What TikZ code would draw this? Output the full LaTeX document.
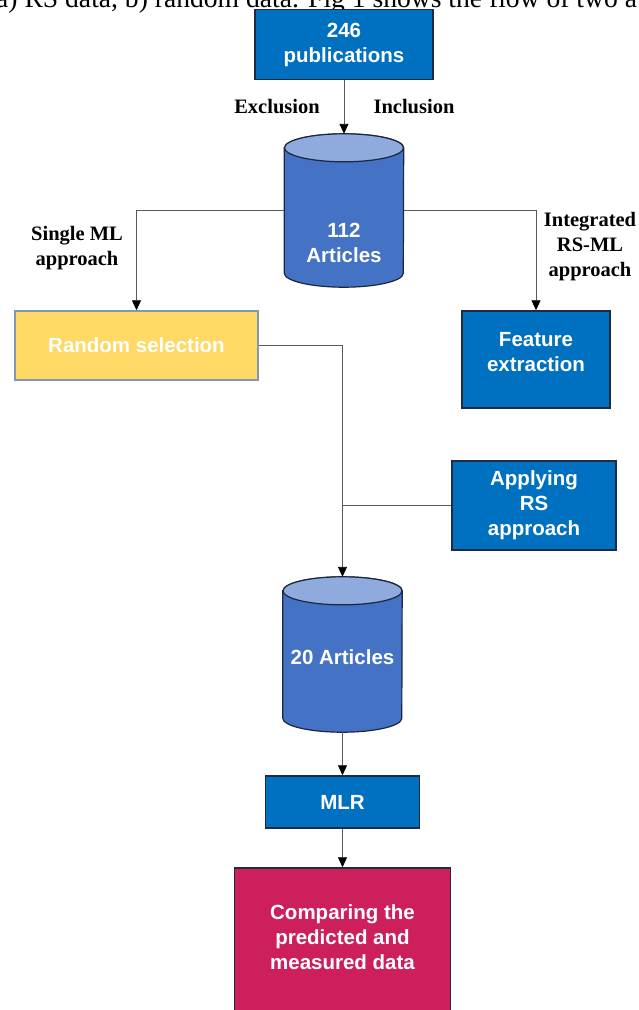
\documentclass[tikz,border=0pt]{standalone}
\usepackage{fontspec}
\setmainfont{Liberation Serif}
\setsansfont{Liberation Sans}
\usetikzlibrary{arrows.meta}
\definecolor{boxblue}{HTML}{0070C0}
\definecolor{boxedge}{HTML}{1F2A44}
\definecolor{cylbody}{HTML}{4472C4}
\definecolor{cyltop}{HTML}{8FAADC}
\definecolor{cyledge}{HTML}{1B2740}
\definecolor{selyellow}{HTML}{FFD966}
\definecolor{seledge}{HTML}{8497B0}
\definecolor{magentabox}{HTML}{CC1F5C}
\definecolor{linegray}{HTML}{595959}
\begin{document}
\begin{tikzpicture}[x=1pt,y=-1pt,
  txt/.style={text=white, font=\sffamily\bfseries\fontsize{20.5}{25}\selectfont, align=center, inner sep=0pt},
  bx/.style={txt, draw=boxedge, line width=1.5pt, fill=boxblue},
  lbl/.style={font=\rmfamily\bfseries\fontsize{20.5}{25}\selectfont, align=center, text=black, inner sep=0pt},
  conn/.style={draw=linegray, line width=0.9pt},
  arr/.style={conn, -{Triangle[length=10pt,width=9pt,color=black]}},
  cylb/.style={fill=cylbody, draw=cyledge, line width=1.2pt},
  cylt/.style={fill=cyltop, draw=cyledge, line width=1.2pt}]
\useasboundingbox (0,0) rectangle (638,1010);
\clip (0,0) rectangle (638,1010);

% partially visible line of text at top
\node[anchor=base west, inner sep=0pt, font=\rmfamily\fontsize{27.6}{32}\selectfont] (topline) at (-4,7) {a) RS data, b) random data. Fig 1 shows the flow of two a};

% boxes
\node[bx, minimum width=178pt, minimum height=70pt] (pub) at (344,44.5) {246\\publications};
\node[txt, draw=seledge, line width=1.5pt, fill=selyellow, minimum width=243pt, minimum height=69pt] (rand) at (136.5,345.5) {Random selection};
\node[bx, minimum width=148pt, minimum height=97pt] (feat) at (536,359.5) {};
\node[txt] (feattxt) at (536,352) {Feature\\extraction};
\node[bx, minimum width=164pt, minimum height=89pt] (apply) at (534,505.5) {Applying\\RS\\approach};
\node[bx, minimum width=154pt, minimum height=52pt] (mlr) at (342.5,802) {MLR};
\node[txt, draw=boxedge, line width=1.5pt, fill=magentabox, minimum width=216pt, minimum height=162pt] (comp) at (342.5,949) {};
\node[txt] (comptxt) at (342.5,937) {Comparing the\\predicted and\\measured data};

% cylinder 1
\node[minimum width=119pt, minimum height=153pt, inner sep=0pt] (cyl1) at (344,210.5) {};
\path[cylb] ([yshift=-14pt]cyl1.north west) -- ([yshift=14pt]cyl1.south west)
  arc[start angle=180,end angle=360,x radius=59.5pt,y radius=14pt]
  -- ([yshift=-14pt]cyl1.north east)
  arc[start angle=0,end angle=180,x radius=59.5pt,y radius=14pt] -- cycle;
\path[cylt] ([yshift=-14pt]cyl1.north) ellipse[x radius=59.5pt,y radius=14pt];
\node[txt] (cyl1txt) at (344,243) {112\\Articles};

% cylinder 2
\node[minimum width=119pt, minimum height=155pt, inner sep=0pt] (cyl2) at (342.5,654.5) {};
\path[cylb] ([yshift=-14pt]cyl2.north west) -- ([yshift=14pt]cyl2.south west)
  arc[start angle=180,end angle=360,x radius=59.5pt,y radius=14pt]
  -- ([yshift=-14pt]cyl2.north east)
  arc[start angle=0,end angle=180,x radius=59.5pt,y radius=14pt] -- cycle;
\path[cylt] ([yshift=-14pt]cyl2.north) ellipse[x radius=59.5pt,y radius=14pt];
\node[txt] (cyl2txt) at (342.5,657) {20 Articles};

% labels
\node[lbl] (excl) at (277,107) {Exclusion};
\node[lbl] (incl) at (414,107) {Inclusion};
\node[lbl] (single) at (77,248) {Single ML\\approach};
\node[lbl] (integ) at (590,247) {Integrated\\RS-ML\\approach};

% connectors
\draw[arr] (pub.south) -- (cyl1.north);
\draw[arr] (cyl1.west) -| (rand.north);
\draw[arr] (cyl1.east) -| (feat.north);
\draw[arr] (rand.east) -| (cyl2.north);
\draw[conn] (apply.west) -- (apply.west -| cyl2.north);
\draw[arr] (cyl2.south) -- (mlr.north);
\draw[arr] (mlr.south) -- (comp.north);
\end{tikzpicture}
\end{document}
